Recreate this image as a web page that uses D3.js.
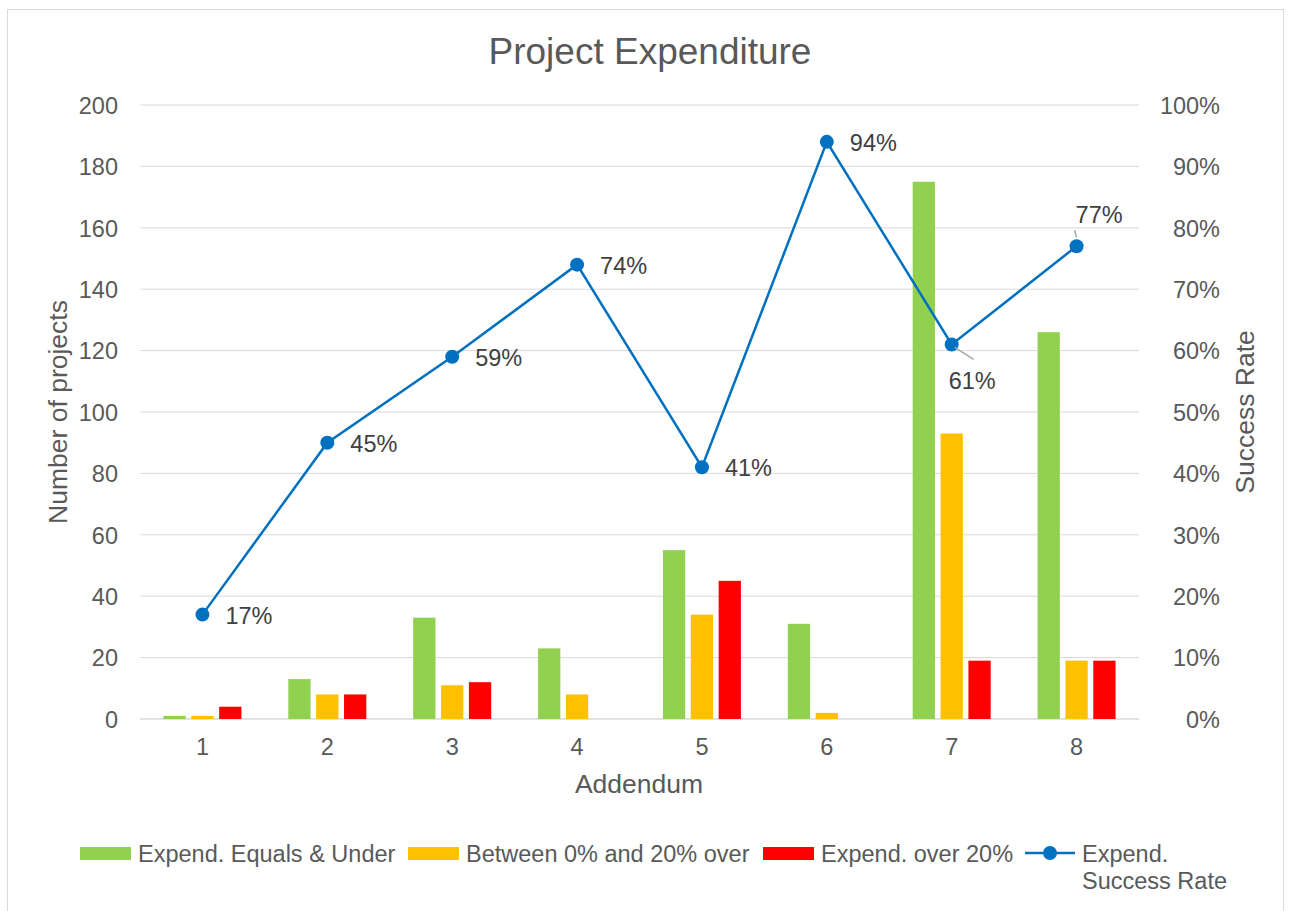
<!DOCTYPE html>
<html>
<head>
<meta charset="utf-8">
<script src="https://cdn.jsdelivr.net/npm/d3@7"></script>
<style>
  body { margin: 0; background: #fff; }
  svg text { font-family: "Liberation Sans", Arial, sans-serif; fill: #595959; }
</style>
</head>
<body>
<svg id="chart" width="1292" height="911"></svg>
<script>
const addenda = ["1", "2", "3", "4", "5", "6", "7", "8"];
const equalsUnder = [1, 13, 33, 23, 55, 31, 175, 126];
const between0and20 = [1, 8, 11, 8, 34, 2, 93, 19];
const over20 = [4, 8, 12, 0, 45, 0, 19, 19];
const successRate = [0.17, 0.45, 0.59, 0.74, 0.41, 0.94, 0.61, 0.77];
const seriesNames = ["Expend. Equals & Under", "Between 0% and 20% over", "Expend. over 20%"];
const seriesColors = ["#92d050", "#ffc000", "#ff0000"];
const lineName = ["Expend.", "Success Rate"];
const leftTicks = [0, 20, 40, 60, 80, 100, 120, 140, 160, 180, 200];
const rightTicks = [0, 0.1, 0.2, 0.3, 0.4, 0.5, 0.6, 0.7, 0.8, 0.9, 1];

const svg = d3.select("#chart");
const plot = { left: 140, right: 1139, top: 105, bottom: 719 };
const tickFont = "23.5px";

// chart border
svg.append("rect")
  .attr("x", 7.5).attr("y", 9.5)
  .attr("width", 1276).attr("height", 920)
  .attr("fill", "none").attr("stroke", "#d9d9d9");

const x = d3.scaleBand().domain(addenda).range([plot.left, plot.right]);
const y = d3.scaleLinear().domain([0, 200]).range([plot.bottom, plot.top]);
const y2 = d3.scaleLinear().domain([0, 1]).range([plot.bottom, plot.top]);
const sub = d3.scaleBand().domain(d3.range(3)).range([-39, 39]).paddingInner(0.2);

// gridlines
svg.append("g")
  .selectAll("line")
  .data(leftTicks)
  .enter()
  .append("line")
  .attr("x1", plot.left).attr("x2", plot.right)
  .attr("y1", function (d) { return y(d); })
  .attr("y2", function (d) { return y(d); })
  .attr("stroke", "#d9d9d9")
  .attr("stroke-width", function (d) { return d === 0 ? 1.5 : 1; });

// left axis
const leftAxis = svg.append("g")
  .attr("transform", "translate(" + (plot.left - 22) + ",0)")
  .call(d3.axisLeft(y).tickValues(leftTicks).tickSize(0).tickPadding(0));
leftAxis.select(".domain").remove();
leftAxis.selectAll("text").style("font-size", tickFont).attr("dy", "0.35em");

// right axis
const rightAxis = svg.append("g")
  .attr("transform", "translate(1220,0)")
  .call(d3.axisRight(y2).tickValues(rightTicks).tickFormat(d3.format(".0%")).tickSize(0).tickPadding(0));
rightAxis.select(".domain").remove();
rightAxis.selectAll("text").style("font-size", tickFont).attr("text-anchor", "end").attr("dy", "0.35em");

// bottom axis
const bottomAxis = svg.append("g")
  .attr("transform", "translate(0," + plot.bottom + ")")
  .call(d3.axisBottom(x).tickSize(0).tickPadding(19));
bottomAxis.select(".domain").remove();
bottomAxis.selectAll("text").style("font-size", tickFont);

// bars
const barData = [];
[equalsUnder, between0and20, over20].forEach(function (vals, s) {
  vals.forEach(function (v, i) {
    barData.push({ cat: addenda[i], s: s, v: v });
  });
});
svg.append("g")
  .selectAll("rect")
  .data(barData)
  .enter()
  .append("rect")
  .attr("x", function (d) { return x(d.cat) + x.bandwidth() / 2 + sub(d.s); })
  .attr("width", sub.bandwidth())
  .attr("y", function (d) { return y(d.v); })
  .attr("height", function (d) { return y(0) - y(d.v); })
  .attr("fill", function (d) { return seriesColors[d.s]; });

// line
const cx = function (i) { return x(addenda[i]) + x.bandwidth() / 2; };
svg.append("path")
  .datum(successRate)
  .attr("fill", "none")
  .attr("stroke", "#0070c0")
  .attr("stroke-width", 2.5)
  .attr("d", d3.line()
    .x(function (d, i) { return cx(i); })
    .y(function (d) { return y2(d); }));

svg.append("g")
  .selectAll("circle")
  .data(successRate)
  .enter()
  .append("circle")
  .attr("cx", function (d, i) { return cx(i); })
  .attr("cy", function (d) { return y2(d); })
  .attr("r", 7)
  .attr("fill", "#0070c0");

// data labels (offsets from point; 7 and 8 use leader lines)
const labelOffsets = [[23, 1], [23, 1], [23, 1], [23, 1], [23, 1], [23, 1], [-3, 36], [-1, -31]];
const leaders = [null, null, null, null, null, null, [[3, 3], [22, 15]], [[0, -9], [-2, -16]]];
leaders.forEach(function (l, i) {
  if (!l) return;
  svg.append("line")
    .attr("x1", cx(i) + l[0][0]).attr("y1", y2(successRate[i]) + l[0][1])
    .attr("x2", cx(i) + l[1][0]).attr("y2", y2(successRate[i]) + l[1][1])
    .attr("stroke", "#a6a6a6").attr("stroke-width", 1.5);
});
svg.append("g")
  .selectAll("text")
  .data(successRate)
  .enter()
  .append("text")
  .attr("x", function (d, i) { return cx(i) + labelOffsets[i][0]; })
  .attr("y", function (d, i) { return y2(d) + labelOffsets[i][1]; })
  .attr("dy", "0.35em")
  .style("font-size", tickFont)
  .style("fill", "#404040")
  .text(function (d) { return d3.format(".0%")(d); });

// titles
svg.append("text")
  .attr("x", 650).attr("y", 64)
  .attr("text-anchor", "middle")
  .style("font-size", "37px")
  .text("Project Expenditure");

svg.append("text")
  .attr("transform", "translate(67,412) rotate(-90)")
  .attr("text-anchor", "middle")
  .style("font-size", "26.5px")
  .text("Number of projects");

svg.append("text")
  .attr("transform", "translate(1254,412) rotate(-90)")
  .attr("text-anchor", "middle")
  .style("font-size", "26.5px")
  .text("Success Rate");

svg.append("text")
  .attr("x", 639).attr("y", 793)
  .attr("text-anchor", "middle")
  .style("font-size", "26.5px")
  .text("Addendum");

// legend
const legendX = [80, 408, 763];
const legend = svg.append("g");
seriesNames.forEach(function (name, i) {
  legend.append("rect")
    .attr("x", legendX[i]).attr("y", 847)
    .attr("width", 51).attr("height", 13)
    .attr("fill", seriesColors[i]);
  legend.append("text")
    .attr("x", legendX[i] + 58).attr("y", 854)
    .attr("dy", "0.35em")
    .style("font-size", tickFont)
    .text(name);
});
legend.append("line")
  .attr("x1", 1025).attr("x2", 1075)
  .attr("y1", 853).attr("y2", 853)
  .attr("stroke", "#0070c0").attr("stroke-width", 2.5);
legend.append("circle")
  .attr("cx", 1050).attr("cy", 853).attr("r", 7)
  .attr("fill", "#0070c0");
legend.selectAll("text.line-name")
  .data(lineName)
  .enter()
  .append("text")
  .classed("line-name", true)
  .attr("x", 1082)
  .attr("y", function (d, i) { return 854 + i * 27; })
  .attr("dy", "0.35em")
  .style("font-size", tickFont)
  .text(function (d) { return d; });
</script>
</body>
</html>
